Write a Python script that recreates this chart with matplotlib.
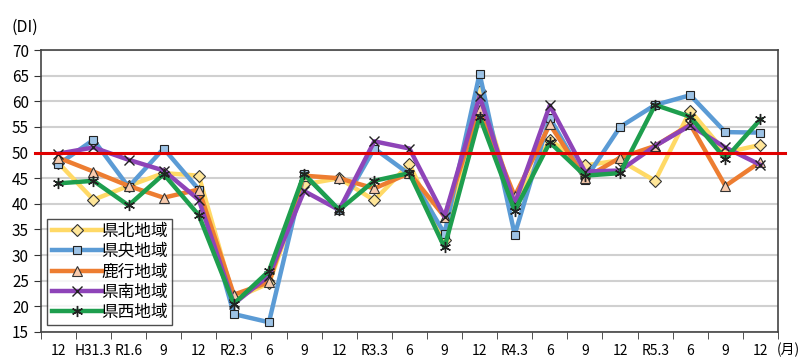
import numpy as np
import matplotlib.pyplot as plt

plt.rcParams['font.family'] = ['Noto Sans CJK JP', 'DejaVu Sans']

labels = ["12", "H31.3", "R1.6", "9", "12", "R2.3", "6", "9", "12", "R3.3",
          "6", "9", "12", "R4.3", "6", "9", "12", "R5.3", "6", "9", "12"]

kenpoku = [48.0, 40.8, 43.5, 46.0, 45.5, 21.5, 24.5, 43.8, 45.0, 40.7,
           47.8, 33.0, 62.0, 40.0, 52.5, 47.5, 48.5, 44.5, 58.2, 50.0, 51.5]
kenou = [47.7, 52.5, 43.3, 50.8, 42.8, 18.5, 16.9, 45.8, 38.8, 50.8,
         45.8, 34.2, 65.4, 34.0, 56.8, 44.7, 55.0, 59.3, 61.2, 54.0, 53.9]
rokko = [49.0, 46.3, 43.5, 41.2, 42.8, 22.3, 24.7, 45.5, 45.0, 43.0,
         46.0, 37.5, 58.5, 41.5, 55.5, 45.0, 49.0, 51.3, 55.5, 43.5, 48.2]
kennan = [49.8, 51.0, 48.6, 46.5, 40.8, 20.5, 26.0, 42.5, 38.8, 52.2,
          50.8, 37.5, 61.0, 40.0, 59.2, 46.3, 46.5, 51.3, 55.3, 51.0, 47.6]
kensei = [44.0, 44.5, 39.7, 45.8, 37.8, 20.5, 26.9, 45.8, 38.8, 44.5,
          46.0, 31.5, 57.0, 38.7, 52.0, 45.5, 46.0, 59.3, 57.0, 48.8, 56.5]

names = ["県北地域", "県央地域", "鹿行地域", "県南地域", "県西地域"]

x = np.arange(len(labels))

fig, ax = plt.subplots(figsize=(8, 3.63), dpi=100)
fig.subplots_adjust(left=0.051, right=0.9725, top=0.862, bottom=0.0854)

ax.plot(x, kenpoku, color='#FFD966', lw=3.2, marker='D', ms=6,
        mfc='#FFE699', mec='#333333', mew=0.8, label=names[0], zorder=3)
ax.plot(x, kenou, color='#5B9BD5', lw=3.2, marker='s', ms=6,
        mfc='#9DC3E6', mec='#222222', mew=0.8, label=names[1], zorder=4)
ax.plot(x, rokko, color='#ED7D31', lw=3.2, marker='^', ms=7,
        mfc='#F8CBAD', mec='#333333', mew=0.8, label=names[2], zorder=5)
ax.plot(x, kennan, color='#8E44B8', lw=3.2, marker='x', ms=7,
        mec='#222222', mew=1.0, label=names[3], zorder=6)
ax.plot(x, kensei, color='#1E9E4E', lw=3.2, marker=(6, 2, 0), ms=8,
        mec='#222222', mew=1.0, label=names[4], zorder=7)

ax.axhline(50, xmin=-0.008, xmax=1.01, color='#E00000', lw=2.2,
           zorder=8, clip_on=False)

ax.set_xlim(-0.5, len(labels) - 0.5)
ax.set_ylim(15, 70)
ax.set_yticks(np.arange(15, 71, 5))
ax.set_xticks(x)
ax.set_xticklabels(labels)
ax.set_xticks(np.arange(-0.5, len(labels), 1), minor=True)
ax.tick_params(axis='x', which='major', length=0, pad=9, labelsize=10)
ax.tick_params(axis='x', which='minor', length=5, direction='out',
               color='#333333')
ax.tick_params(axis='y', length=5, direction='out', labelsize=11,
               color='#333333')

ax.yaxis.grid(True, color='#D0D0D0', lw=1.5)
ax.set_axisbelow(True)
for s in ax.spines.values():
    s.set_color('#444444')
    s.set_linewidth(1.2)

ax.text(-0.04, 1.08, "(DI)", transform=ax.transAxes, fontsize=11.5,
        ha='left', va='center')
ax.text(0.998, -0.065, "(月)", transform=ax.transAxes, fontsize=10,
        ha='left', va='center')

leg = ax.legend(loc='lower left', bbox_to_anchor=(0.009, 0.024),
                fontsize=12, frameon=True, fancybox=False,
                edgecolor='#222222', borderpad=0.25, labelspacing=0.2,
                handlelength=3.0, handletextpad=0.0, borderaxespad=0)
leg.get_frame().set_linewidth(1.0)
leg.set_zorder(10)

plt.savefig('out.png')
